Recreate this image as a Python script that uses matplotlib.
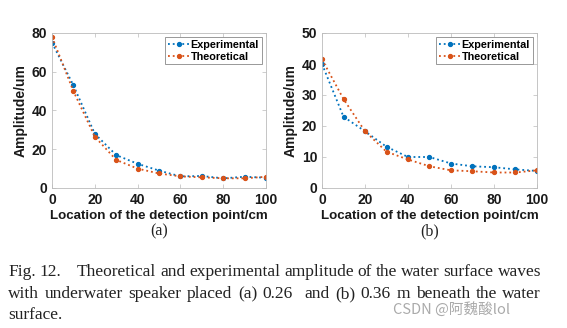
import matplotlib
matplotlib.use("Agg")
import matplotlib.pyplot as plt

x = [0, 10, 20, 30, 40, 50, 60, 70, 80, 90, 100]
exp_a = [75, 53, 28, 17, 12.5, 9, 6, 6.2, 5, 5.8, 5.3]
theo_a = [78, 50, 26.5, 14.5, 10, 7.5, 6, 5.5, 5, 5, 5.8]
exp_b = [40, 23, 18.3, 13.3, 10, 10, 7.9, 7, 6.7, 6, 5.5]
theo_b = [41.5, 28.7, 18.3, 11.7, 9.2, 7, 5.7, 5.4, 5, 5, 5.7]
yticks_a = [0, 20, 40, 60, 80]
yticks_b = [0, 10, 20, 30, 40, 50]
xticks = [0, 20, 40, 60, 80, 100]
caption_lines = [
    "Fig. 12.    Theoretical and experimental amplitude of the water surface waves",
    "with underwater speaker placed (a) 0.26  and (b) 0.36 m beneath the water",
    "surface.",
]

W, H = 567, 328
fig = plt.figure(figsize=(W / 100, H / 100), dpi=100)
blue = "#0072BD"
orange = "#D95319"
sans = "Liberation Sans"
serif = "Liberation Serif"

def px(l, t, r, b):
    return [l / W, 1 - b / H, (r - l) / W, (b - t) / H]

def panel(rect, e, th, yt, tag):
    ax = fig.add_axes(px(*rect))
    ax.plot(x, e, ls=":", lw=1.3, color=blue, marker="o", ms=2.8, label="Experimental")
    ax.plot(x, th, ls=":", lw=1.3, color=orange, marker="o", ms=2.8, label="Theoretical")
    ax.set_xlim(0, 100)
    ax.set_ylim(yt[0], yt[-1])
    ax.set_xticks(xticks)
    ax.set_yticks(yt)
    ax.tick_params(direction="in", top=True, right=True, length=3, width=0.5,
                   labelsize=10, pad=3.5, colors="#bbbbbb", labelcolor="#1a1a1a")
    for lab in ax.get_xticklabels() + ax.get_yticklabels():
        lab.set_fontweight("bold")
        lab.set_fontfamily(sans)
    for s in ax.spines.values():
        s.set_color("#bbbbbb")
        s.set_linewidth(0.6)
    ax.set_xlabel("Location of the detection point/cm", fontsize=9.6, fontweight="bold",
                  family=sans, color="#1a1a1a", labelpad=2)
    ax.set_ylabel("Amplitude/um", fontsize=10, fontweight="bold", family=sans,
                  color="#1a1a1a", labelpad=3)
    leg = ax.legend(loc="upper right", prop={"family": sans, "weight": "bold", "size": 7.8},
                    handlelength=2.0, handletextpad=0.1, borderpad=0.25, labelspacing=0.15,
                    fancybox=False, framealpha=1, borderaxespad=0.4)
    leg.get_frame().set_edgecolor("#888888")
    leg.get_frame().set_linewidth(0.6)
    cx = (rect[0] + rect[2]) / 2
    fig.text(cx / W, 1 - 231 / H, tag, ha="center", va="center", family=serif,
             fontsize=11.5, color="#222222")
    return ax

panel((52, 33, 266, 188), exp_a, theo_a, yticks_a, "(a)")
panel((322, 33, 537, 188), exp_b, theo_b, yticks_b, "(b)")

# justified caption
fig.canvas.draw()
renderer = fig.canvas.get_renderer()
left, right = 8, 541
ys = [272, 294, 315]
cap_fs = 12.5
for i, line in enumerate(caption_lines):
    y = 1 - ys[i] / H
    if i == len(caption_lines) - 1:
        fig.text(left / W, y, line, family=serif, fontsize=cap_fs, va="center", color="#222222")
        continue
    words = line.split()
    texts = [fig.text(0, y, w, family=serif, fontsize=cap_fs, va="center", color="#222222") for w in words]
    widths = [t.get_window_extent(renderer).width for t in texts]
    gaps_weight = [1.0] * (len(words) - 1)
    if i == 0:
        gaps_weight[1] = 4.0
    if i == 1:
        gaps_weight[5] = 2.0
    total_gap = (right - left) - sum(widths)
    unit = total_gap / sum(gaps_weight)
    pos = left
    for j, t in enumerate(texts):
        t.set_x(pos / W)
        pos += widths[j]
        if j < len(gaps_weight):
            pos += unit * gaps_weight[j]

fig.text(510 / W, 1 - 310 / H, "CSDN @阿魏酸lol", ha="right", va="center",
         family=["Noto Sans CJK SC", "DejaVu Sans"], fontsize=10.5, color="#aaaaaa")

fig.savefig("out.png", dpi=100)
